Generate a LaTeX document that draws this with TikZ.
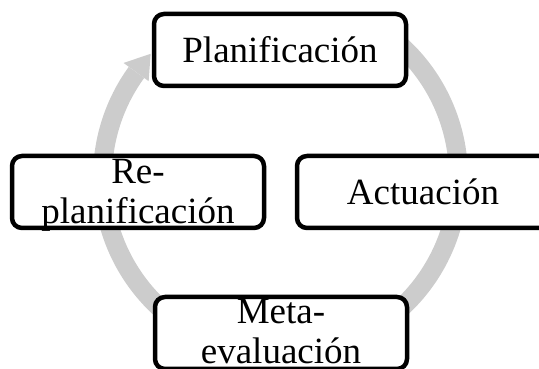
\documentclass[tikz,border=0pt]{standalone}
\usepackage{fontspec}
\setmainfont{Liberation Serif}
\begin{document}
\begin{tikzpicture}[x=1pt,y=1pt,
  stage/.style={draw=black,fill=white,line width=4.5pt,rounded corners=10pt,
    minimum width=252pt,minimum height=72pt,inner sep=0pt,align=center,
    font=\fontsize{37}{40}\selectfont},
  cyclearrow/.style={gray!40,line width=19pt}]
\useasboundingbox (0,0) rectangle (539,369);
\clip (0,0) rectangle (539,369);
% ring behind the stages
\begin{scope}[shift={(280.5,192)}]
  \draw[cyclearrow] (60:178) arc[start angle=60,end angle=-216,radius=178];
  \fill[gray!40] (144:163) -- (144:194) -- (136.5:179) -- cycle;
\end{scope}
\node[stage] (plan) at (280,319) {Planificación};
\node[stage] (act) at (423,177) {Actuación};
\node[stage,text height=67pt,text depth=5pt] (meta) at (281,36) {Meta-\\evaluación};
\node[stage,text height=68pt,text depth=4pt] (replan) at (138,177) {Re-\\planificación};
\end{tikzpicture}
\end{document}
